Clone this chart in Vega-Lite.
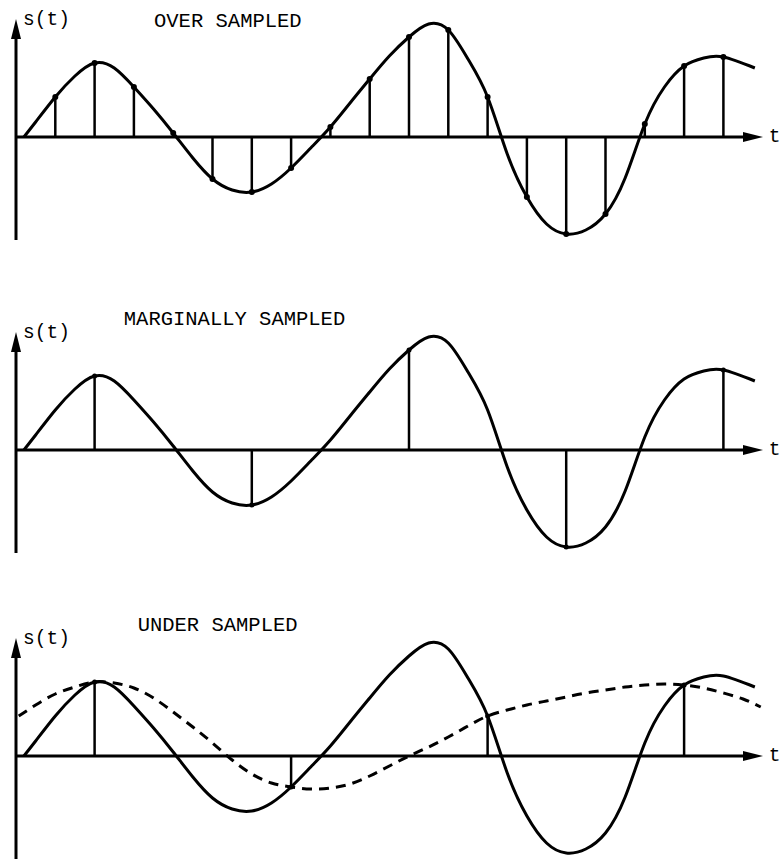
{
  "$schema": "https://vega.github.io/schema/vega-lite/v6.json",
  "background": "white",
  "padding": 0,
  "spacing": 0,
  "bounds": "flush",
  "resolve": {"scale": {"x": "independent", "y": "independent"}},
  "config": {"view": {"stroke": null}, "font": "Liberation Mono"},
  "datasets": {
    "signal": [
      {"t": 0.2, "s": 0}, {"t": 0.5, "s": 0.15}, {"t": 1, "s": 0.40}, {"t": 1.5, "s": 0.61},
      {"t": 2, "s": 0.74}, {"t": 2.5, "s": 0.69},
      {"t": 3, "s": 0.50}, {"t": 3.5, "s": 0.28}, {"t": 4, "s": 0.04},
      {"t": 4.5, "s": -0.21}, {"t": 5, "s": -0.42}, {"t": 5.5, "s": -0.53},
      {"t": 6, "s": -0.55}, {"t": 6.5, "s": -0.47}, {"t": 7, "s": -0.31}, {"t": 7.5, "s": -0.11},
      {"t": 8, "s": 0.10}, {"t": 8.5, "s": 0.34}, {"t": 9, "s": 0.58},
      {"t": 9.5, "s": 0.81}, {"t": 10, "s": 1.00}, {"t": 10.5, "s": 1.13},
      {"t": 11, "s": 1.07}, {"t": 11.5, "s": 0.78}, {"t": 12, "s": 0.40},
      {"t": 12.5, "s": -0.17}, {"t": 13, "s": -0.60}, {"t": 13.5, "s": -0.87}, {"t": 14, "s": -0.97},
      {"t": 14.5, "s": -0.93}, {"t": 15, "s": -0.77}, {"t": 15.5, "s": -0.41},
      {"t": 16, "s": 0.13}, {"t": 16.5, "s": 0.50}, {"t": 17, "s": 0.71},
      {"t": 17.5, "s": 0.79}, {"t": 18, "s": 0.80}, {"t": 18.8, "s": 0.69}
    ],
    "alias": [
      {"t": 0.07, "s": 0.40}, {"t": 0.5, "s": 0.51}, {"t": 1, "s": 0.62}, {"t": 1.5, "s": 0.69},
      {"t": 2, "s": 0.74}, {"t": 2.5, "s": 0.73}, {"t": 3, "s": 0.68}, {"t": 3.5, "s": 0.58},
      {"t": 4, "s": 0.44}, {"t": 4.5, "s": 0.29}, {"t": 5, "s": 0.13},
      {"t": 5.5, "s": -0.04}, {"t": 6, "s": -0.18}, {"t": 6.5, "s": -0.27}, {"t": 7, "s": -0.31},
      {"t": 7.5, "s": -0.33}, {"t": 8, "s": -0.32}, {"t": 8.5, "s": -0.28}, {"t": 9, "s": -0.20},
      {"t": 9.5, "s": -0.10}, {"t": 10, "s": 0}, {"t": 10.5, "s": 0.09}, {"t": 11, "s": 0.19},
      {"t": 11.5, "s": 0.30}, {"t": 12, "s": 0.40}, {"t": 12.5, "s": 0.46}, {"t": 13, "s": 0.51},
      {"t": 13.5, "s": 0.55}, {"t": 14, "s": 0.59}, {"t": 14.5, "s": 0.63}, {"t": 15, "s": 0.66},
      {"t": 15.5, "s": 0.69}, {"t": 16, "s": 0.71}, {"t": 16.5, "s": 0.72}, {"t": 17, "s": 0.71},
      {"t": 17.5, "s": 0.68}, {"t": 18, "s": 0.63}, {"t": 18.5, "s": 0.57}, {"t": 18.95, "s": 0.49}
    ],
    "over": [
      {"t": 1, "s": 0.40}, {"t": 2, "s": 0.74}, {"t": 3, "s": 0.50}, {"t": 4, "s": 0.04},
      {"t": 5, "s": -0.42}, {"t": 6, "s": -0.55}, {"t": 7, "s": -0.31}, {"t": 8, "s": 0.10},
      {"t": 9, "s": 0.58}, {"t": 10, "s": 1.00}, {"t": 11, "s": 1.07}, {"t": 12, "s": 0.40},
      {"t": 13, "s": -0.60}, {"t": 14, "s": -0.97}, {"t": 15, "s": -0.77}, {"t": 16, "s": 0.13},
      {"t": 17, "s": 0.71}, {"t": 18, "s": 0.80}
    ],
    "marginal": [
      {"t": 2, "s": 0.74}, {"t": 6, "s": -0.55}, {"t": 10, "s": 1.00}, {"t": 14, "s": -0.97}, {"t": 18, "s": 0.80}
    ],
    "under": [
      {"t": 2, "s": 0.74}, {"t": 7, "s": -0.31}, {"t": 12, "s": 0.40}, {"t": 17, "s": 0.71}
    ],
    "yaxis": [{"t": 0, "s": -1.03, "s2": 1.0}],
    "yhead": [{"t": 0, "s": 1.08}],
    "xaxis": [{"t": 0, "t2": 18.55, "s": 0}],
    "xhead": [{"t": 18.753, "s": 0}],
    "axisnames": [{"t": 0.776, "s": 1.18, "label": "s(t)"}, {"t": 19.3, "s": 0.01, "label": "t"}]
  },
  "vconcat": [
    {
      "width": 783,
      "height": 290,
      "encoding": {
        "x": {"field": "t", "type": "quantitative", "scale": {"domain": [-0.4071, 19.5165], "nice": false, "zero": false}, "axis": null},
        "y": {"field": "s", "type": "quantitative", "scale": {"domain": [-1.53, 1.37], "nice": false, "zero": false}, "axis": null}
      },
      "layer": [
        {"data": {"name": "yaxis"}, "mark": {"type": "rule", "color": "black", "strokeWidth": 3}, "encoding": {"y2": {"field": "s2"}}},
        {"data": {"name": "yhead"}, "mark": {"type": "point", "shape": "M0,-1L0.5,1L-0.5,1Z", "size": 400, "filled": true, "color": "black", "opacity": 1}},
        {"data": {"name": "xaxis"}, "mark": {"type": "rule", "color": "black", "strokeWidth": 3}, "encoding": {"x2": {"field": "t2"}}},
        {"data": {"name": "xhead"}, "mark": {"type": "point", "shape": "M1,0L-1,-0.5L-1,0.5Z", "size": 400, "filled": true, "color": "black", "opacity": 1}},
        {"data": {"name": "over"}, "mark": {"type": "rule", "color": "black", "strokeWidth": 2.5}, "encoding": {"y2": {"datum": 0}}},
        {"data": {"name": "signal"}, "mark": {"type": "line", "color": "black", "strokeWidth": 3, "interpolate": "natural"}, "encoding": {}},
        {"data": {"name": "over"}, "mark": {"type": "point", "shape": "circle", "size": 36, "filled": true, "color": "black", "opacity": 1}},
        {"data": {"name": "axisnames"}, "mark": {"type": "text", "fontSize": 19.5, "align": "center", "baseline": "middle", "color": "black"}, "encoding": {"text": {"field": "label"}}},
        {"data": {"values": [{"t": 5.39, "s": 1.16, "label": "OVER SAMPLED"}]}, "mark": {"type": "text", "fontSize": 20.5, "align": "center", "baseline": "middle", "color": "black"}, "encoding": {"text": {"field": "label"}}}
      ]
    },
    {
      "width": 783,
      "height": 307,
      "encoding": {
        "x": {"field": "t", "type": "quantitative", "scale": {"domain": [-0.4071, 19.5165], "nice": false, "zero": false}, "axis": null},
        "y": {"field": "s", "type": "quantitative", "scale": {"domain": [-1.47, 1.60], "nice": false, "zero": false}, "axis": null}
      },
      "layer": [
        {"data": {"name": "yaxis"}, "mark": {"type": "rule", "color": "black", "strokeWidth": 3}, "encoding": {"y2": {"field": "s2"}}},
        {"data": {"name": "yhead"}, "mark": {"type": "point", "shape": "M0,-1L0.5,1L-0.5,1Z", "size": 400, "filled": true, "color": "black", "opacity": 1}},
        {"data": {"name": "xaxis"}, "mark": {"type": "rule", "color": "black", "strokeWidth": 3}, "encoding": {"x2": {"field": "t2"}}},
        {"data": {"name": "xhead"}, "mark": {"type": "point", "shape": "M1,0L-1,-0.5L-1,0.5Z", "size": 400, "filled": true, "color": "black", "opacity": 1}},
        {"data": {"name": "marginal"}, "mark": {"type": "rule", "color": "black", "strokeWidth": 2.5}, "encoding": {"y2": {"datum": 0}}},
        {"data": {"name": "signal"}, "mark": {"type": "line", "color": "black", "strokeWidth": 3, "interpolate": "natural"}, "encoding": {}},
        {"data": {"name": "marginal"}, "mark": {"type": "point", "shape": "circle", "size": 25, "filled": true, "color": "black", "opacity": 1}},
        {"data": {"name": "axisnames"}, "mark": {"type": "text", "fontSize": 19.5, "align": "center", "baseline": "middle", "color": "black"}, "encoding": {"text": {"field": "label"}}},
        {"data": {"values": [{"t": 5.56, "s": 1.31, "label": "MARGINALLY SAMPLED"}]}, "mark": {"type": "text", "fontSize": 20.5, "align": "center", "baseline": "middle", "color": "black"}, "encoding": {"text": {"field": "label"}}}
      ]
    },
    {
      "width": 783,
      "height": 270,
      "encoding": {
        "x": {"field": "t", "type": "quantitative", "scale": {"domain": [-0.4071, 19.5165], "nice": false, "zero": false}, "axis": null},
        "y": {"field": "s", "type": "quantitative", "scale": {"domain": [-1.11, 1.59], "nice": false, "zero": false}, "axis": null}
      },
      "layer": [
        {"data": {"name": "yaxis"}, "mark": {"type": "rule", "color": "black", "strokeWidth": 3}, "encoding": {"y2": {"field": "s2"}}},
        {"data": {"name": "yhead"}, "mark": {"type": "point", "shape": "M0,-1L0.5,1L-0.5,1Z", "size": 400, "filled": true, "color": "black", "opacity": 1}},
        {"data": {"name": "xaxis"}, "mark": {"type": "rule", "color": "black", "strokeWidth": 3}, "encoding": {"x2": {"field": "t2"}}},
        {"data": {"name": "xhead"}, "mark": {"type": "point", "shape": "M1,0L-1,-0.5L-1,0.5Z", "size": 400, "filled": true, "color": "black", "opacity": 1}},
        {"data": {"name": "under"}, "mark": {"type": "rule", "color": "black", "strokeWidth": 2.5}, "encoding": {"y2": {"datum": 0}}},
        {"data": {"name": "alias"}, "mark": {"type": "line", "color": "black", "strokeWidth": 3, "strokeDash": [10, 7], "interpolate": "natural"}, "encoding": {}},
        {"data": {"name": "signal"}, "mark": {"type": "line", "color": "black", "strokeWidth": 3, "interpolate": "natural"}, "encoding": {}},
        {"data": {"name": "under"}, "mark": {"type": "point", "shape": "circle", "size": 25, "filled": true, "color": "black", "opacity": 1}},
        {"data": {"name": "axisnames"}, "mark": {"type": "text", "fontSize": 19.5, "align": "center", "baseline": "middle", "color": "black"}, "encoding": {"text": {"field": "label"}}},
        {"data": {"values": [{"t": 5.13, "s": 1.31, "label": "UNDER SAMPLED"}]}, "mark": {"type": "text", "fontSize": 20.5, "align": "center", "baseline": "middle", "color": "black"}, "encoding": {"text": {"field": "label"}}}
      ]
    }
  ]
}
